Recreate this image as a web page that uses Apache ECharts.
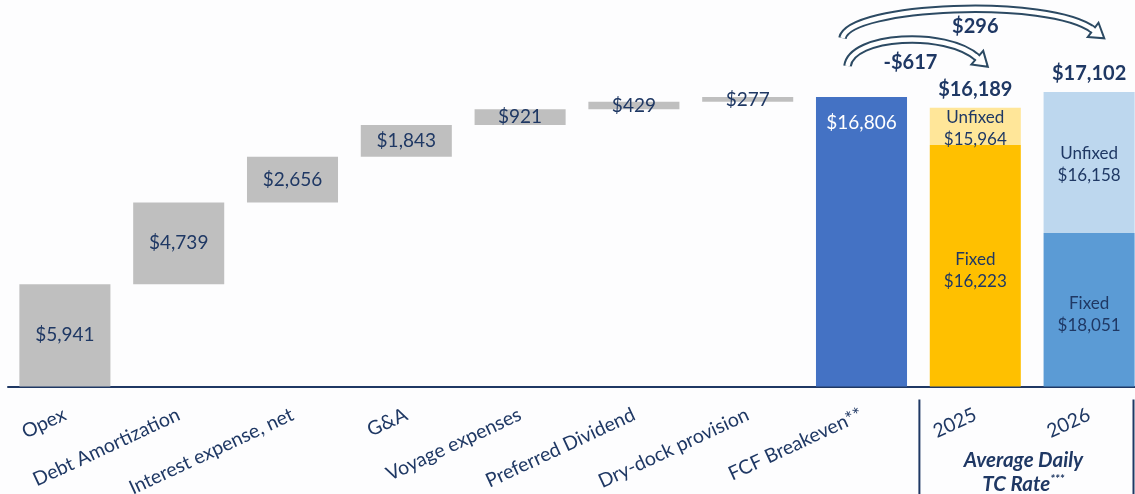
<!DOCTYPE html>
<html>
<head>
<meta charset="utf-8">
<script src="https://cdn.jsdelivr.net/npm/echarts@6/dist/echarts.min.js"></script>
<style>
  html, body { margin: 0; padding: 0; background: #fdfdfe; }
  #chart { width: 1135px; height: 494px; }
</style>
</head>
<body>
<div id="chart"></div>
<script>
// FCF breakeven build-up and average daily TC rates (USD per day)
const categories = ['Opex', 'Debt Amortization', 'Interest expense, net', 'G&A',
  'Voyage expenses', 'Preferred Dividend', 'Dry-dock provision', 'FCF Breakeven**', '2025', '2026'];
const costItems = [5941, 4739, 2656, 1843, 921, 429, 277];
const breakeven = 16806;
const rateTotals = [16189, 17102];
const fixedRates = [16223, 18051];
const unfixedRates = [15964, 16158];
const fixedHeights = [14020, 8910];

const NAVY = '#1F3864';
const FONT = 'Lato, "Open Sans", sans-serif';
const fixedColors = ['#FFC000', '#5B9BD5'];
const unfixedColors = ['#FFE699', '#BDD7EE'];

const fmt = v => (v < 0 ? '-' : '') + '$' + Math.abs(v).toLocaleString('en-US');

const nCost = costItems.length;
const empty = n => Array.from({ length: n }, () => '-');

// invisible bases that lift each waterfall step
const baseData = [];
let running = 0;
costItems.forEach(v => { baseData.push(running); running += v; });

const costData = costItems.concat(empty(3));
const fcfData = empty(nCost).concat([breakeven, '-', '-']);
const fixedData = empty(nCost + 1).concat(fixedHeights.map((v, i) => ({
  value: v, rate: fixedRates[i], itemStyle: { color: fixedColors[i] }
})));
const unfixedData = empty(nCost + 1).concat(rateTotals.map((t, i) => ({
  value: t - fixedHeights[i], rate: unfixedRates[i], itemStyle: { color: unfixedColors[i] }
})));
const totalData = empty(nCost + 1).concat(rateTotals);

const chart = echarts.init(document.getElementById('chart'));

const barCommon = { type: 'bar', stack: 'w', barWidth: '80%', silent: true };

chart.setOption({
  backgroundColor: '#fdfdfe',
  animation: false,
  grid: { left: 8, width: 1138, top: 42, height: 344.5, outerBoundsMode: 'none', containLabel: false },
  xAxis: {
    type: 'category',
    data: categories,
    axisTick: { show: false },
    axisLine: { lineStyle: { color: NAVY, width: 2 } },
    axisLabel: {
      interval: 0, rotate: 25, margin: 27,
      color: NAVY, fontSize: 19.5, fontFamily: FONT
    }
  },
  yAxis: { type: 'value', min: 0, max: 20000, show: false, splitLine: { show: false } },
  series: [
    Object.assign({}, barCommon, {
      name: 'base', data: baseData.concat(empty(3)),
      itemStyle: { color: 'transparent' }
    }),
    Object.assign({}, barCommon, {
      name: 'cost', data: costData,
      itemStyle: { color: '#BFBFBF' },
      label: {
        show: true, position: 'inside', color: NAVY, fontSize: 19, fontFamily: FONT,
        formatter: p => fmt(p.value)
      }
    }),
    Object.assign({}, barCommon, {
      name: 'breakeven', data: fcfData,
      itemStyle: { color: '#4472C4' },
      label: {
        show: true, position: 'insideTop', distance: 16, color: '#ffffff',
        fontSize: 19, fontFamily: FONT, formatter: p => fmt(p.value)
      }
    }),
    Object.assign({}, barCommon, {
      name: 'fixed', data: fixedData,
      label: {
        show: true, position: 'inside', offset: [0, 5], color: NAVY,
        fontSize: 17, lineHeight: 22, fontFamily: FONT,
        formatter: p => 'Fixed\n' + fmt(p.data.rate)
      }
    }),
    Object.assign({}, barCommon, {
      name: 'unfixed', data: unfixedData,
      label: {
        show: true, position: 'inside', offset: [0, 2], color: NAVY,
        fontSize: 17, lineHeight: 22, fontFamily: FONT,
        formatter: p => 'Unfixed\n' + fmt(p.data.rate)
      }
    }),
    {
      name: 'total', type: 'scatter', data: totalData, symbolSize: 0, silent: true,
      itemStyle: { color: NAVY, opacity: 1 },
      label: {
        show: true, position: 'top', distance: 8, color: NAVY, fontWeight: 'bold',
        fontSize: 20, fontFamily: FONT, formatter: p => fmt(p.value)
      }
    }
  ]
});

// annotations placed from the bar positions
const px = (idx, val) => chart.convertToPixel({ gridIndex: 0 }, [idx, val]);
const fcf = px(nCost, breakeven);
const b25 = px(nCost + 1, rateTotals[0]);
const b26 = px(nCost + 2, rateTotals[1]);

const ARROW = '#2C4A63';

function curvedArrow(p0, c1, c2, p3) {
  const dx = p3[0] - c2[0], dy = p3[1] - c2[1];
  const len = Math.hypot(dx, dy);
  const d = [dx / len, dy / len];
  const n = [-d[1], d[0]];
  const headLen = 14, headHalf = 9;
  const tip = [p3[0] + d[0] * headLen, p3[1] + d[1] * headLen];
  const shape = { x1: p0[0], y1: p0[1], cpx1: c1[0], cpy1: c1[1], cpx2: c2[0], cpy2: c2[1], x2: p3[0], y2: p3[1] };
  return [
    { type: 'bezierCurve', shape, style: { stroke: ARROW, lineWidth: 8.5, fill: null }, z: 100 },
    { type: 'bezierCurve', shape, style: { stroke: '#ffffff', lineWidth: 4.5, fill: null }, z: 101 },
    {
      type: 'polygon', z: 102,
      shape: { points: [[p3[0] + n[0] * headHalf, p3[1] + n[1] * headHalf], tip, [p3[0] - n[0] * headHalf, p3[1] - n[1] * headHalf]] },
      style: { fill: '#ffffff', stroke: ARROW, lineWidth: 2 }
    },
    {
      type: 'line', z: 103,
      shape: { x1: p3[0] - d[0] * 3, y1: p3[1] - d[1] * 3, x2: p3[0] + d[0] * 1.8, y2: p3[1] + d[1] * 1.8 },
      style: { stroke: '#ffffff', lineWidth: 4.5 }
    }
  ];
}

const outer = curvedArrow(
  [fcf[0] - 19, fcf[1] - 59], [fcf[0] - 12, fcf[1] - 92],
  [b26[0] - 40, b26[1] - 95], [b26[0] + 4, b26[1] - 62]);
const inner = curvedArrow(
  [fcf[0] - 14, fcf[1] - 31], [fcf[0] - 10, fcf[1] - 62],
  [b25[0] - 30, b25[1] - 78], [b25[0] + 2, b25[1] - 50]);

const W = chart.getWidth(), H = chart.getHeight();
const divX = (fcf[0] + b25[0]) / 2 + 1;
const rightX = W - 1.5;
const midX = (divX + rightX) / 2;
const axisY = px(0, 0)[1];

const boldText = (x, y, text, size) => ({
  type: 'text', x, y, z: 110,
  style: { text, fill: NAVY, font: 'bold ' + size + 'px ' + FONT, align: 'center', verticalAlign: 'middle' }
});

chart.setOption({
  graphic: [].concat(outer, inner, [
    boldText((fcf[0] + b26[0]) / 2, fcf[1] - 70, fmt(rateTotals[1] - breakeven), 20),
    boldText((fcf[0] + b25[0]) / 2 - 8, fcf[1] - 34, fmt(rateTotals[0] - breakeven), 20),
    { type: 'line', shape: { x1: divX, y1: axisY + 13, x2: divX, y2: H }, style: { stroke: NAVY, lineWidth: 2 } },
    { type: 'line', shape: { x1: rightX, y1: axisY + 13, x2: rightX, y2: H }, style: { stroke: NAVY, lineWidth: 2 } },
    {
      type: 'text', x: midX - 3, y: axisY + 74,
      style: {
        text: 'Average Daily', fill: NAVY, align: 'center', verticalAlign: 'middle',
        font: 'italic bold 20.5px ' + FONT
      }
    },
    {
      type: 'text', x: midX - 3, y: axisY + 98,
      style: {
        text: '{m|TC Rate}{s|***}', align: 'center', verticalAlign: 'middle',
        rich: {
          m: { fill: NAVY, fontStyle: 'italic', fontWeight: 'bold', fontSize: 20.5, fontFamily: FONT },
          s: { fill: NAVY, fontStyle: 'italic', fontWeight: 'bold', fontSize: 12, fontFamily: FONT, padding: [0, 0, 11, 0] }
        }
      }
    }
  ])
});
</script>
</body>
</html>
